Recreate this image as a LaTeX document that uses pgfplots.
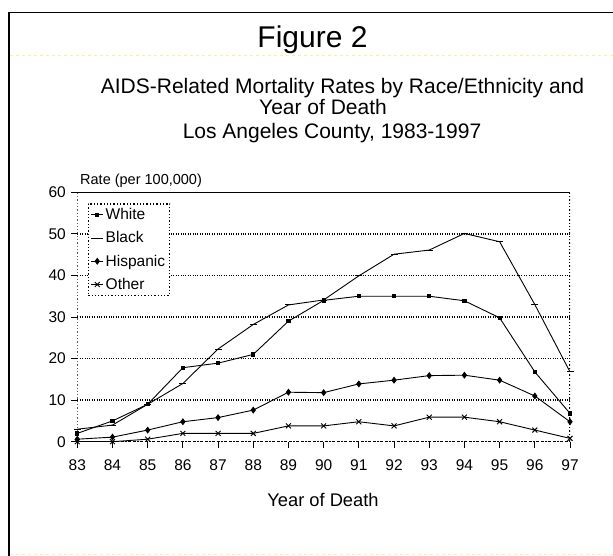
\documentclass[border=0pt]{standalone}
\usepackage{fontspec}
\setmainfont{Liberation Sans}
\usepackage{pgfplots}
\pgfplotsset{compat=1.18}
\pgfplotstableread{
yr White Black Hispanic Other
83 2 3 0.6 0
84 5 4 1.1 0
85 9 9 2.8 0.6
86 17.8 14 4.8 2
87 18.9 22.3 5.8 2
88 21 28.2 7.6 2
89 29 32.9 11.9 3.8
90 34 34.1 11.8 3.8
91 35 39.9 13.9 4.8
92 35 45.1 14.8 3.8
93 35 46.1 15.9 5.9
94 33.9 50.1 16 5.9
95 29.8 48.1 14.8 4.8
96 16.8 33 11 2.8
97 6.8 16.8 4.8 0.8
}\mydata
\definecolor{ylw}{RGB}{250,240,150}
\begin{document}
\begin{tikzpicture}[x=1pt,y=1pt]
\path[use as bounding box] (0pt,0pt) rectangle (613pt,556pt);
\draw[line width=2.5pt] (9pt,0pt) -- (9pt,543.3pt);
\draw[line width=1.5pt] (8pt,543.3pt) -- (613pt,543.3pt);
\draw[ylw, dashed, line width=1pt] (10pt,500pt) -- (613pt,500pt);
\draw[ylw, dashed, line width=1pt] (10pt,1pt) -- (613pt,1pt);
\node[anchor=base] at (312.5pt,508pt) {\fontsize{30}{34}\selectfont Figure 2};
\node[anchor=base] at (342.5pt,462.5pt) {\fontsize{21}{24}\selectfont AIDS-Related Mortality Rates by Race/Ethnicity and};
\node[anchor=base] at (323pt,441pt) {\fontsize{21}{24}\selectfont Year of Death};
\node[anchor=base] at (332pt,417pt) {\fontsize{21}{24}\selectfont Los Angeles County, 1983-1997};
\node[anchor=base west, inner sep=0pt] at (80pt,371pt) {\fontsize{14.5}{16}\selectfont Rate (per 100,000)};
\node at (323pt,56pt) {\fontsize{18.3}{20}\selectfont Year of Death};
\begin{axis}[
  at={(77.3pt,114.3pt)}, anchor=south west,
  scale only axis, width=492.7pt, height=249.4pt,
  xmin=83, xmax=97, ymin=0, ymax=60,
  xtick={83,...,97}, ytick={0,10,...,60},
  xtick pos=bottom, ytick pos=left,
  axis line style={draw=none},
  tick align=outside, major tick length=6pt,
  tick style={black, line width=0.9pt},
  ymajorgrids, grid style={black, dotted, line width=1.3pt},
  ticklabel style={font=\fontsize{15.5}{17}\selectfont},
  /pgf/number format/assume math mode=true,
  xticklabel style={yshift=-8.5pt},
  yticklabel style={xshift=-2pt},
  legend style={at={(0.021,0.956)}, anchor=north west, draw=black, dotted, line width=1.3pt,
    font=\fontsize{15.5}{17}\selectfont, inner sep=2.5pt, row sep=6.5pt},
  legend cell align=left,
  legend image code/.code={\draw[solid, mark repeat=2, mark phase=2] plot coordinates {(0pt,0pt) (6pt,0pt) (12pt,0pt)};},
  every axis plot/.append style={black, solid, line width=0.9pt},
]
\addplot[mark=square*, mark size=1.6pt] table[x=yr,y=White] {\mydata};
\addplot[mark=-, mark size=3.5pt] table[x=yr,y=Black] {\mydata};
\addplot[mark=diamond*, mark size=2.8pt] table[x=yr,y=Hispanic] {\mydata};
\addplot[mark=x, mark size=3.5pt] table[x=yr,y=Other] {\mydata};
\legend{White, Black, Hispanic, Other}
\draw[black, line width=1.5pt] (rel axis cs:0,1) -- (rel axis cs:1,1);
\draw[black, dotted, line width=1.3pt] (rel axis cs:0,0) -- (rel axis cs:0,1);
\draw[black, dotted, line width=1.3pt] (rel axis cs:1,0) -- (rel axis cs:1,1);
\draw[black, dotted, line width=2pt] (rel axis cs:0,0) -- (rel axis cs:1,0);
\end{axis}
\end{tikzpicture}
\end{document}
